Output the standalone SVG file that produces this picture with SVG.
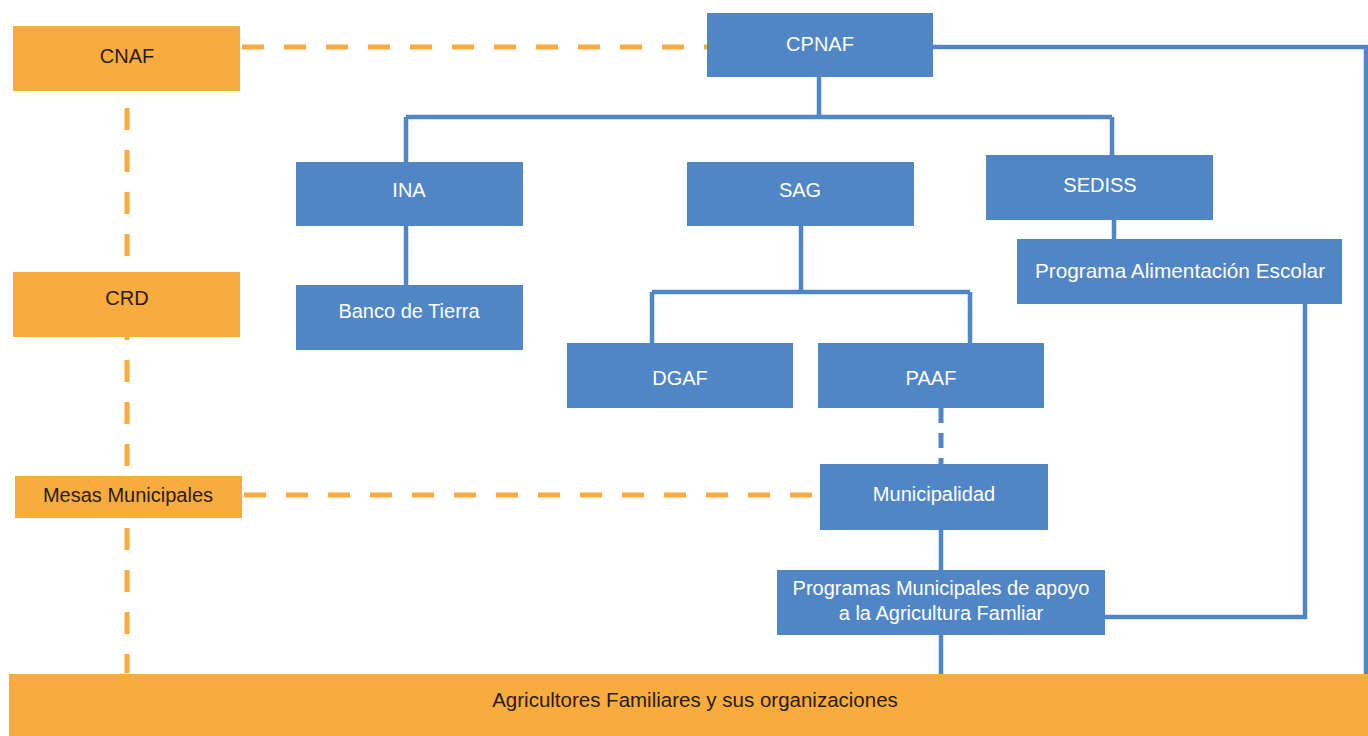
<svg xmlns="http://www.w3.org/2000/svg" width="1368" height="736" viewBox="0 0 1368 736">
<style>
.b{fill:#5186C6}
.o{fill:#F9AC3E}
.tw{fill:#FFFFFF;font-family:"Liberation Sans",Arial,sans-serif;font-size:20px;text-anchor:middle}
.td{fill:#2A1B0C;font-family:"Liberation Sans",Arial,sans-serif;font-size:20px;text-anchor:middle}
.cl{fill:none;stroke:#5186C6;stroke-width:4.5}
.cd{fill:none;stroke:#5186C6;stroke-width:5;stroke-dasharray:15 10}
.od{fill:none;stroke:#F9AC3E;stroke-width:5;stroke-dasharray:22 20}
</style>
<rect width="1368" height="736" fill="#FFFFFF"/>
<g id="connectors">
<path class="od" d="M242 47H707"/>
<path class="od" d="M127 108V673"/>
<path class="od" d="M244 495H820"/>
<path class="cl" d="M933 47H1366V674"/>
<path class="cl" d="M819 77V117M406 117H1112M406 117V162M1112 117V155M406 226V285"/>
<path class="cl" d="M801 226V292M652 292H970M652 292V343M970 292V343"/>
<path class="cl" d="M1114 220V239M1305 304V617H1105"/>
<path class="cd" d="M941 408V464"/>
<path class="cl" d="M941 530V570M941 635V674"/>
</g>
<g id="cnaf"><rect class="o" x="13" y="26" width="227" height="65"/><text class="td" x="127" y="63">CNAF</text></g>
<g id="crd"><rect class="o" x="13" y="272" width="227" height="65"/><text class="td" x="127" y="305">CRD</text></g>
<g id="mesas"><rect class="o" x="15" y="476" width="227" height="42"/><text class="td" x="128" y="502">Mesas Municipales</text></g>
<g id="cpnaf"><rect class="b" x="707" y="13" width="226" height="64"/><text class="tw" x="820" y="51">CPNAF</text></g>
<g id="ina"><rect class="b" x="296" y="162" width="227" height="64"/><text class="tw" x="409" y="197">INA</text></g>
<g id="sag"><rect class="b" x="687" y="162" width="227" height="64"/><text class="tw" x="800" y="197">SAG</text></g>
<g id="sediss"><rect class="b" x="986" y="155" width="227" height="65"/><text class="tw" x="1100" y="192">SEDISS</text></g>
<g id="banco"><rect class="b" x="296" y="285" width="227" height="65"/><text class="tw" x="409" y="318">Banco de Tierra</text></g>
<g id="pae"><rect class="b" x="1017" y="239" width="325" height="65"/><text class="tw" x="1180" y="278" style="font-size:20.8px">Programa Alimentación Escolar</text></g>
<g id="dgaf"><rect class="b" x="567" y="343" width="226" height="65"/><text class="tw" x="680" y="385">DGAF</text></g>
<g id="paaf"><rect class="b" x="818" y="343" width="226" height="65"/><text class="tw" x="931" y="385">PAAF</text></g>
<g id="municipalidad"><rect class="b" x="820" y="464" width="228" height="66"/><text class="tw" x="934" y="501">Municipalidad</text></g>
<g id="programas"><rect class="b" x="777" y="570" width="328" height="65"/><text class="tw" x="941" y="595">Programas Municipales de apoyo</text><text class="tw" x="941" y="620">a la Agricultura Famliar</text></g>
<g id="agricultores"><rect class="o" x="9" y="674" width="1359" height="62"/><text class="td" x="695" y="707" style="font-size:20.5px">Agricultores Familiares y sus organizaciones</text></g>
</svg>
